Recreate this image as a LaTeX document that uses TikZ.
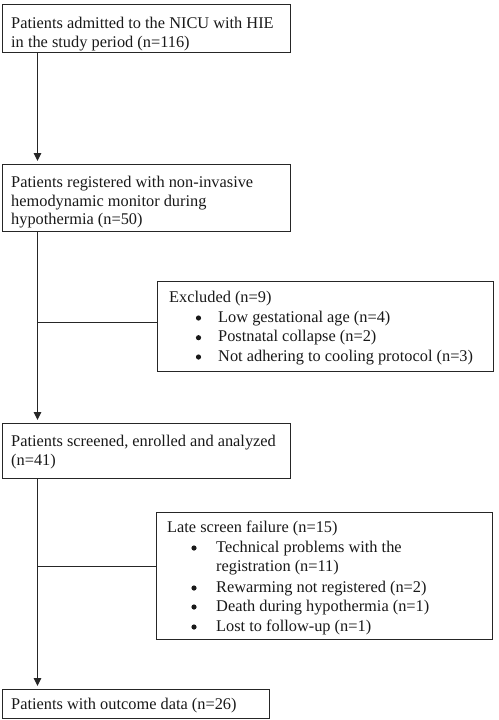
\documentclass[tikz,border=0pt]{standalone}
\usepackage{fontspec}
\setmainfont{Liberation Serif}
\usetikzlibrary{arrows.meta}
\begin{document}
\begin{tikzpicture}[x=1pt,y=-1pt,
  box/.style={draw=black!85, line width=1.3pt, inner sep=0pt, anchor=north west},
  txt/.style={anchor=base west, inner sep=0pt, font=\fontsize{16.35}{18.8}\selectfont, text=black!90},
  bul/.style={circle, fill=black!90, inner sep=0pt, minimum size=5.2pt},
  conn/.style={draw=black!85, line width=1.1pt},
  arr/.style={conn, -{Triangle[width=7.5pt,length=8pt]}, shorten >=3pt}]
\useasboundingbox (0,0) rectangle (498,720);
% boxes
\node[box, minimum width=288, minimum height=48] (b1) at (1.5,4) {};
\node[box, minimum width=288, minimum height=67] (b2) at (1.5,164) {};
\node[box, minimum width=336, minimum height=90] (ex) at (157,281) {};
\node[box, minimum width=288, minimum height=55] (b4) at (1.5,423) {};
\node[box, minimum width=336, minimum height=127] (lf) at (156,512) {};
\node[box, minimum width=267, minimum height=29] (b6) at (1.5,689) {};
% texts
\node[txt] (t11) at (11,28) {Patients admitted to the NICU with HIE};
\node[txt] (t12) at (11,47) {in the study period (n=116)};
\node[txt] (t21) at (11,187.5) {Patients registered with non-invasive};
\node[txt] (t22) at (11,206.2) {hemodynamic monitor during};
\node[txt] (t23) at (11,224.9) {hypothermia (n=50)};
\node[txt] (te0) at (169,302) {Excluded (n=9)};
\node[bul] (be1) at (198.5,318) {};
\node[txt] (te1) at (218,322) {Low gestational age (n=4)};
\node[bul] (be2) at (198.5,337.7) {};
\node[txt] (te2) at (218,341.7) {Postnatal collapse (n=2)};
\node[bul] (be3) at (198.5,357) {};
\node[txt] (te3) at (218,361) {Not adhering to cooling protocol (n=3)};
\node[txt] (t41) at (11,446) {Patients screened, enrolled and analyzed};
\node[txt] (t42) at (11,465) {(n=41)};
\node[txt] (tl0) at (167,532) {Late screen failure (n=15)};
\node[bul] (bl1) at (194,548) {};
\node[txt] (tl1) at (216,552) {Technical problems with the};
\node[txt] (tl1b) at (216,571) {registration (n=11)};
\node[bul] (bl2) at (194,588) {};
\node[txt] (tl2) at (216,592) {Rewarming not registered (n=2)};
\node[bul] (bl3) at (194,607) {};
\node[txt] (tl3) at (216,611) {Death during hypothermia (n=1)};
\node[bul] (bl4) at (194,627) {};
\node[txt] (tl4) at (216,631) {Lost to follow-up (n=1)};
\node[txt] (t61) at (11,709) {Patients with outcome data (n=26)};
% connectors
\coordinate (spine) at (37.5,0);
\coordinate (j1) at (37.5,322.5);
\coordinate (j2) at (37.5,566.5);
\draw[arr] (b1.south -| spine) -- (b2.north -| spine);
\draw[arr] (b2.south -| spine) -- (b4.north -| spine);
\draw[arr] (b4.south -| spine) -- (b6.north -| spine);
\draw[conn] (j1) -- (j1 -| ex.west);
\draw[conn] (j2) -- (j2 -| lf.west);
\end{tikzpicture}
\end{document}
